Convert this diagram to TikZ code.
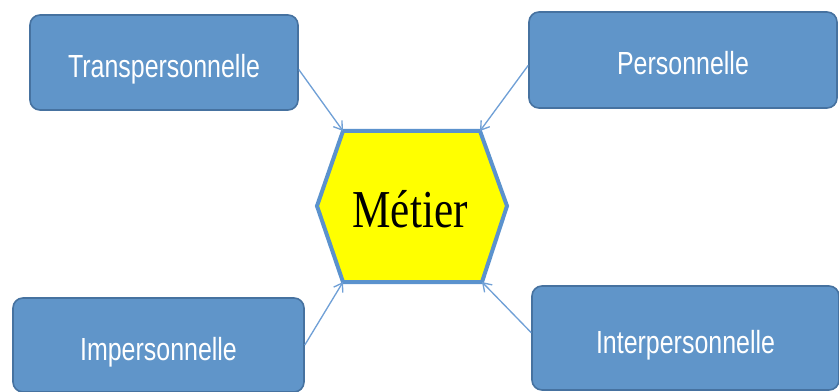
\documentclass[tikz,border=0pt]{standalone}
\usepackage{fontspec}
\setmainfont{Liberation Sans}
\newfontfamily\boxfont[FakeStretch=0.78]{Liberation Sans}
\newfontfamily\hexfont[FakeStretch=0.81]{Liberation Serif}
\usetikzlibrary{arrows.meta}

\tikzset{
  persobox/.style={draw={rgb, 255:red, 70; green, 114; blue, 160 }, line width=1.2, fill={rgb, 255:red, 96; green, 149; blue, 201 }, fill opacity=1, rounded corners=7.5, text={rgb, 255:red, 255; green, 255; blue, 255 }, font=\boxfont\fontsize{24}{24}\selectfont, inner sep=0pt, text height=22.5pt, text depth=0pt},
  lienarrow/.style={draw={rgb, 255:red, 112; green, 160; blue, 214 }, line width=1, -{Straight Barb[length=6pt,width=8pt]}},
}

\begin{document}
\begin{tikzpicture}[x=0.75pt,y=0.75pt,yscale=-1,xscale=1]
\useasboundingbox (0,0) rectangle (839,392);

%Shape: Hexagon
\coordinate (hexNW) at (343,131);
\coordinate (hexNE) at (480,131);
\coordinate (hexE) at (507,206);
\coordinate (hexSE) at (482,282);
\coordinate (hexSW) at (343,282);
\coordinate (hexW) at (317,206);
\draw  [color={rgb, 255:red, 91; green, 146; blue, 205 }  ,line width=3 ][fill={rgb, 255:red, 255; green, 255; blue, 0 }  ,fill opacity=1 ] (hexNW) -- (hexNE) -- (hexE) -- (hexSE) -- (hexSW) -- (hexW) -- cycle ;

% Text Node
\node [anchor=base, font=\hexfont\fontsize{40}{40}\selectfont] (metier) at (410,228) {Métier};

%Shape: Rounded Rect
\node [persobox, minimum width=201pt, minimum height=71.25pt] (transp) at (164,62.5) {Transpersonnelle};
%Shape: Rounded Rect
\node [persobox, minimum width=231pt, minimum height=72pt] (perso) at (683,60) {Personnelle};
%Shape: Rounded Rect
\node [persobox, minimum width=218.25pt, minimum height=70.5pt] (imperso) at (158.5,345) {Impersonnelle};
%Shape: Rounded Rect
\node [persobox, minimum width=230.25pt, minimum height=78pt] (interp) at (685.5,338) {Interpersonnelle};

%Straight Lines
\draw [lienarrow] (transp.-3) -- (hexNW) ;
\draw [lienarrow] (perso.182) -- (hexNE) ;
\draw [lienarrow] (imperso.east) -- (hexSW) ;
\draw [lienarrow] (interp.178) -- (hexSE) ;

\end{tikzpicture}
\end{document}
